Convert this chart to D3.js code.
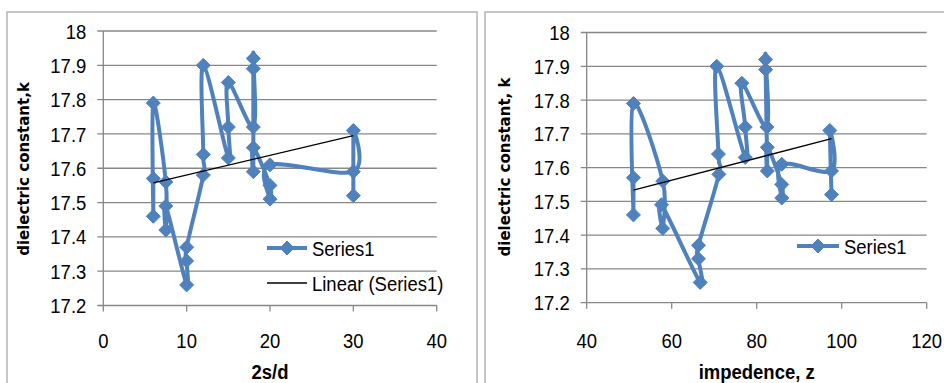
<!DOCTYPE html>
<html><head><meta charset="utf-8">
<script src="https://cdn.jsdelivr.net/npm/d3@7"></script>
<style>
html,body{margin:0;padding:0;background:#fff;}
svg{display:block;}
</style></head>
<body>
<svg id="c" width="944" height="383"></svg>
<script>
// ---- data ----
const kValues   = [17.57,17.46,17.79,17.56,17.42,17.49,17.26,17.33,17.37,17.58,17.64,17.90,17.63,17.72,17.85,17.72,17.92,17.89,17.59,17.66,17.55,17.51,17.61,17.59,17.71,17.52];
const ratio2sd  = [6,6,6,7.5,7.5,7.5,10,10,10,12,12,12,15,15,15,18,18,18,18,18,20,20,20,30,30,30];
const impedance = [51,51,51,57.9,57.9,57.6,66.7,66.3,66.3,71.1,71.0,70.6,77.3,77.3,76.5,82.4,82.1,82.1,82.5,82.5,85.9,85.9,85.9,97.6,97.2,97.6];
const yTicks    = [17.2,17.3,17.4,17.5,17.6,17.7,17.8,17.9,18];
const xTicksL   = [0,10,20,30,40];
const xTicksR   = [40,60,80,100,120];
const seriesName = "Series1";
const trendName  = "Linear (Series1)";

const BLUE = "#4F81BD", GRID = "#878787", FRAME = "#b4b4b4";
const FONT = "'Liberation Sans',Arial,sans-serif";
const SX = 0.88, FS = 21;
const svg = d3.select("#c");

function diamond(g, x, y, r){
  g.append("path").attr("d", `M${x},${y-r}L${x+r},${y}L${x},${y+r}L${x-r},${y}Z`)
    .attr("fill", BLUE).attr("stroke", BLUE).attr("stroke-width",1);
}
function label(g, x, y, txt, anchor, opts={}){
  return g.append("text").attr("transform",`translate(${x},${y}) scale(${SX},1)`)
    .attr("text-anchor",anchor).attr("dy",opts.dy||null)
    .attr("font-family",FONT).attr("font-size",FS).attr("font-weight",opts.bold?"bold":null)
    .attr("fill","#000").text(txt);
}

function chart(o){
  svg.append("rect").attr("x",o.fx).attr("y",12).attr("width",o.fw).attr("height",420)
    .attr("fill","none").attr("stroke",FRAME).attr("stroke-width",1.5);
  const x = d3.scaleLinear().domain(o.xd).range([o.x0,o.x1]);
  const y = d3.scaleLinear().domain([17.2,18]).range([o.yb,o.yt]);
  const g = svg.append("g");
  g.selectAll(".gl").data(yTicks).join("line")
    .attr("x1",o.x0-6).attr("x2",o.x1).attr("y1",d=>y(d)).attr("y2",d=>y(d))
    .attr("stroke",GRID).attr("stroke-width",1.3);
  g.append("line").attr("x1",o.x0).attr("x2",o.x0).attr("y1",y(18)).attr("y2",y(17.2))
    .attr("stroke",GRID).attr("stroke-width",1.3);
  g.selectAll(".xt").data(o.xt).join("line")
    .attr("x1",d=>x(d)).attr("x2",d=>x(d)).attr("y1",y(17.2)).attr("y2",y(17.2)+6)
    .attr("stroke",GRID).attr("stroke-width",1.3);
  yTicks.forEach(d=>label(g, o.x0-17, y(d), String(d), "end", {dy:"0.36em"}));
  o.xt.forEach(d=>label(g, x(d), 348, String(d), "middle"));
  label(g, (o.x0+o.x1)/2, 379, o.xTitle, "middle", {bold:true});
  g.append("text").attr("transform",`translate(${o.ytx},${o.yty}) rotate(-90)`)
    .attr("text-anchor","middle").attr("dy","0.35em")
    .attr("font-family","'DejaVu Sans',sans-serif").attr("font-weight","bold").attr("font-size",15)
    .text(o.yTitle);
  const pts = o.xs.map((v,i)=>[x(v), y(kValues[i])]);
  g.append("path").attr("d", d3.line().curve(d3.curveCardinal.tension(0))(pts))
    .attr("fill","none").attr("stroke",BLUE).attr("stroke-width",4).attr("stroke-linejoin","round");
  pts.forEach(p=>diamond(g,p[0],p[1],7));
  const mx = d3.mean(o.xs), my = d3.mean(kValues);
  let sxy=0,sxx=0; o.xs.forEach((v,i)=>{sxy+=(v-mx)*(kValues[i]-my); sxx+=(v-mx)*(v-mx);});
  const b = sxy/sxx, a = my - b*mx;
  const [lo,hi] = d3.extent(o.xs);
  g.append("line").attr("x1",x(lo)).attr("y1",y(a+b*lo)).attr("x2",x(hi)).attr("y2",y(a+b*hi))
    .attr("stroke","#000").attr("stroke-width",1.3);
  const L = o.leg;
  g.append("line").attr("x1",L.x).attr("x2",L.x+L.w).attr("y1",L.y).attr("y2",L.y)
    .attr("stroke",BLUE).attr("stroke-width",4);
  diamond(g, L.x+L.w/2, L.y, 7);
  label(g, L.x+L.w+5, L.y, seriesName, "start", {dy:"0.36em"});
  if(L.trend){
    g.append("line").attr("x1",L.x).attr("x2",L.x+L.w).attr("y1",L.y+35).attr("y2",L.y+35)
      .attr("stroke","#000").attr("stroke-width",1.3);
    label(g, L.x+L.w+5, L.y+35, trendName, "start", {dy:"0.36em"});
  }
}

chart({fx:7, fw:470, xd:[0,40], x0:103.3, x1:436.7, yt:31, yb:305.5, xt:xTicksL,
  xs:ratio2sd, xTitle:"2s/d", yTitle:"dielectric constant,k", ytx:24, yty:169,
  leg:{x:267, w:40, y:248, trend:true}});
chart({fx:485, fw:480, xd:[40,120], x0:586.7, x1:926.7, yt:32.5, yb:302.7, xt:xTicksR,
  xs:impedance, xTitle:"impedence, z", yTitle:"dielectric constant, k", ytx:505, yty:167,
  leg:{x:797, w:42, y:246, trend:false}});
</script>
</body></html>
